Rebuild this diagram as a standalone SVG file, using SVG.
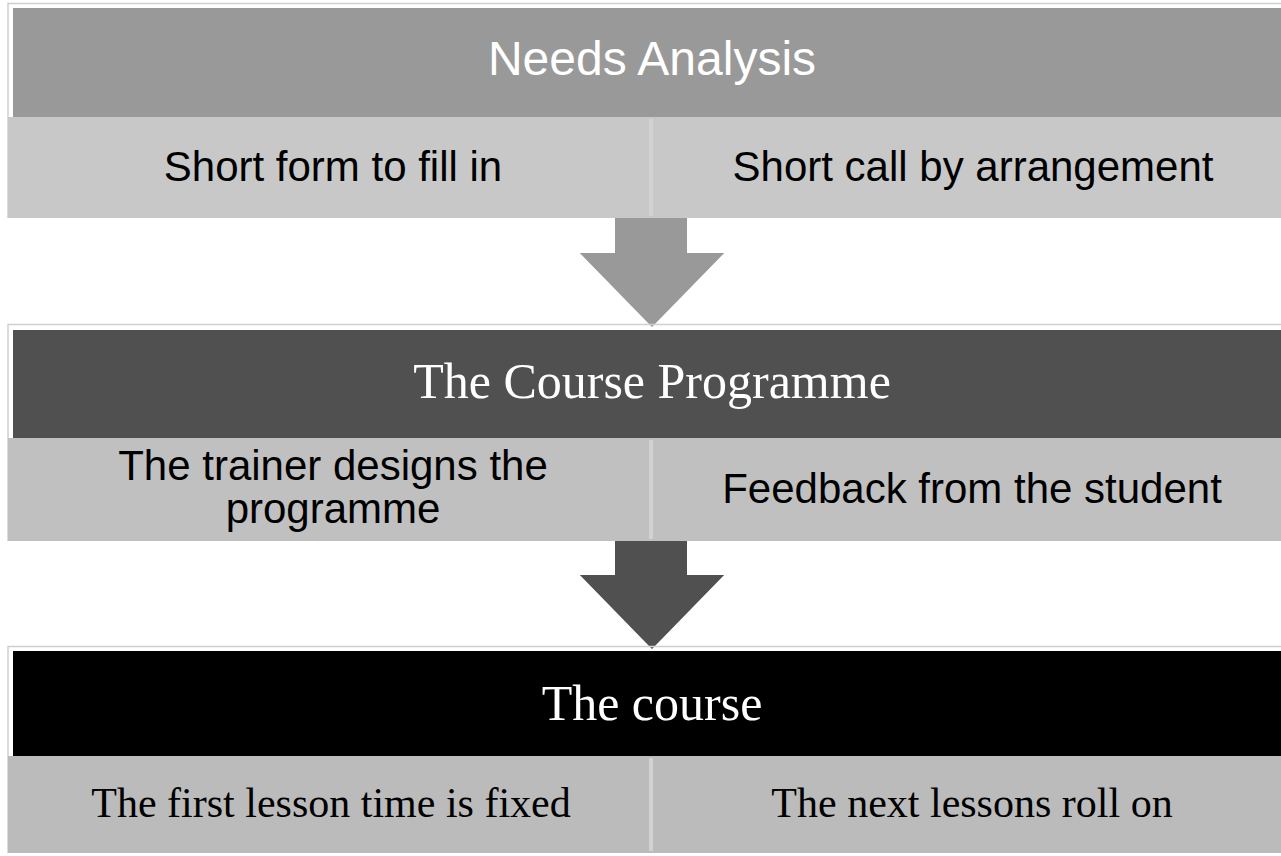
<svg xmlns="http://www.w3.org/2000/svg" width="1281" height="856" viewBox="0 0 1281 856">
<style>
.frame{fill:none;stroke:#cfcfcf;stroke-width:1.5}
.sans{font-family:"Liberation Sans",Arial,sans-serif;text-anchor:middle}
.serif{font-family:"Liberation Serif","Times New Roman",serif;text-anchor:middle}
.hd{font-size:48px;fill:#fff}
.hds{font-size:50px;fill:#fff}
.sub{font-size:42px;fill:#000}
.div{stroke:#d2d2d2;stroke-width:4}
.arrow{stroke:#fff;stroke-width:4;stroke-linejoin:miter}
</style>
<rect width="1281" height="856" fill="#fff"/>
<g id="connectors">
<polygon class="arrow" points="613,216 689,216 689,251 729,251 652,330 575,251 613,251" fill="#999999"/>
<polygon class="arrow" points="613,539 689,539 689,573 729,573 652,652 575,573 613,573" fill="#505050"/>
</g>
<g id="needs-analysis">
<path class="frame" d="M8,218 V3.5 H1281"/>
<rect x="13" y="8" width="1268" height="109" fill="#999999"/>
<text class="sans hd" x="652" y="75">Needs Analysis</text>
</g>
<g id="short-form">
<rect x="8" y="117" width="644" height="101" fill="#c8c8c8"/>
<text class="sans sub" x="333" y="181">Short form to fill in</text>
</g>
<g id="short-call">
<rect x="652" y="117" width="629" height="101" fill="#c8c8c8"/>
<line class="div" x1="651" y1="119" x2="651" y2="216"/>
<text class="sans sub" x="973" y="181">Short call by arrangement</text>
</g>
<g id="course-programme">
<path class="frame" d="M8,541 V324.5 H1281"/>
<rect x="13" y="330" width="1268" height="108" fill="#505050"/>
<text class="serif hds" x="652" y="398">The Course Programme</text>
</g>
<g id="trainer-designs">
<rect x="8" y="438" width="644" height="103" fill="#c0c0c0"/>
<text class="sans sub" x="333" y="480">The trainer designs the</text>
<text class="sans sub" x="333" y="523">programme</text>
</g>
<g id="feedback">
<rect x="652" y="438" width="629" height="103" fill="#c0c0c0"/>
<line class="div" x1="651" y1="440" x2="651" y2="539"/>
<text class="sans sub" x="972" y="503">Feedback from the student</text>
</g>
<g id="the-course">
<path class="frame" d="M8,853 V646.5 H1281"/>
<rect x="13" y="651" width="1268" height="105" fill="#000"/>
<text class="serif hds" x="652" y="720">The course</text>
</g>
<g id="first-lesson">
<rect x="8" y="756" width="644" height="97" fill="#bbbbbb"/>
<text class="serif sub" x="331" y="817">The first lesson time is fixed</text>
</g>
<g id="next-lessons">
<rect x="652" y="756" width="629" height="97" fill="#bbbbbb"/>
<line class="div" x1="651" y1="758" x2="651" y2="851"/>
<text class="serif sub" x="972" y="817">The next lessons roll on</text>
</g>
</svg>
